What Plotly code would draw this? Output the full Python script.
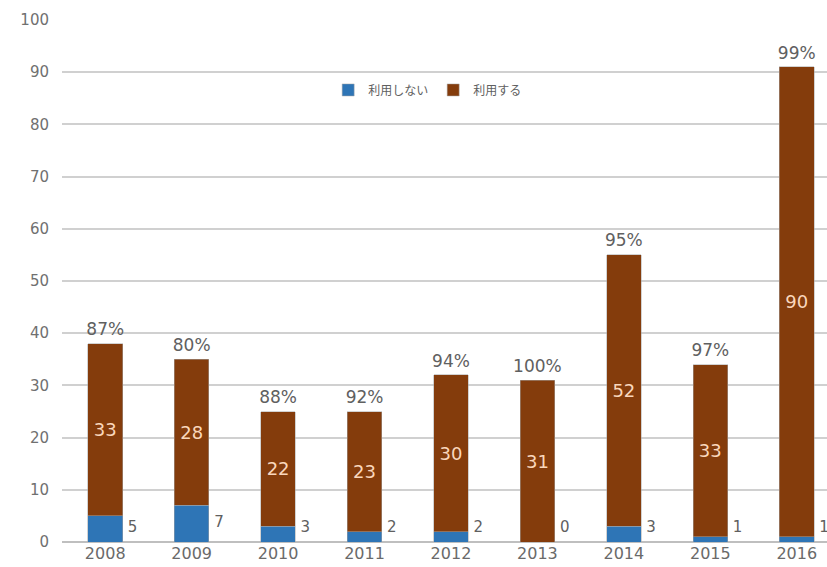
import plotly.graph_objects as go

years = ["2008", "2009", "2010", "2011", "2012", "2013", "2014", "2015", "2016"]
not_use = [5, 7, 3, 2, 2, 0, 3, 1, 1]
use = [33, 28, 22, 23, 30, 31, 52, 33, 90]
pct_labels = ["87%", "80%", "88%", "92%", "94%", "100%", "95%", "97%", "99%"]

xi = list(range(len(years)))
totals = [a + b for a, b in zip(not_use, use)]

BLUE = "#2E75B6"
BROWN = "#843C0C"
GRAY = "#606060"
NUMFONT = "DejaVu Sans"
JPFONT = "Noto Sans CJK JP"

fig = go.Figure()
fig.add_trace(go.Bar(
    x=xi, y=not_use, name="利用しない",
    marker=dict(color=BLUE, line=dict(color="#A6A6A6", width=0.5)),
    width=0.4,
))
fig.add_trace(go.Bar(
    x=xi, y=use, name="利用する",
    marker=dict(color=BROWN, line=dict(color="#A6A6A6", width=0.5)),
    width=0.4,
    text=[str(v) for v in use], textposition="inside",
    insidetextanchor="middle",
    textfont=dict(color="#FAD7BC", size=18, family=NUMFONT),
    textangle=0,
))
# blue values to the right of the bar base
fig.add_trace(go.Scatter(
    x=[i + 0.26 for i in xi], y=[max(v / 2, 2.6) for v in not_use],
    mode="text", text=[str(v) for v in not_use],
    textposition="middle right",
    textfont=dict(color=GRAY, size=15, family=NUMFONT),
    showlegend=False, hoverinfo="skip", cliponaxis=False,
))
# percentages above bars
fig.add_trace(go.Scatter(
    x=xi, y=[t + 0.8 for t in totals],
    mode="text", text=pct_labels,
    textposition="top center",
    textfont=dict(color=GRAY, size=17, family=NUMFONT),
    showlegend=False, hoverinfo="skip", cliponaxis=False,
))

fig.update_layout(
    width=827, height=567,
    margin=dict(l=62, r=0, t=20, b=25),
    barmode="stack",
    plot_bgcolor="white", paper_bgcolor="white",
    font=dict(family=NUMFONT, color=GRAY),
    legend=dict(
        orientation="h", x=0.478, xanchor="center", y=0.866, yanchor="middle",
        font=dict(size=12, color=GRAY, family=JPFONT),
        bgcolor="rgba(0,0,0,0)", traceorder="normal",
    ),
    xaxis=dict(
        tickmode="array", tickvals=xi, ticktext=years,
        range=[-0.5, 8.35], showgrid=False, zeroline=False,
        tickfont=dict(size=16, color="#6A6A6A", family=NUMFONT),
        ticks="", showline=False,
    ),
    yaxis=dict(
        range=[0, 100], dtick=10, showgrid=True, gridcolor="#D0D0D0",
        gridwidth=1.5, zeroline=True, zerolinecolor="#BFBFBF", zerolinewidth=1.5,
        tickfont=dict(size=15, color="#707070", family=NUMFONT),
        ticks="", showline=False, ticklabelstandoff=12,
    ),
)

fig.write_html("out.html")
